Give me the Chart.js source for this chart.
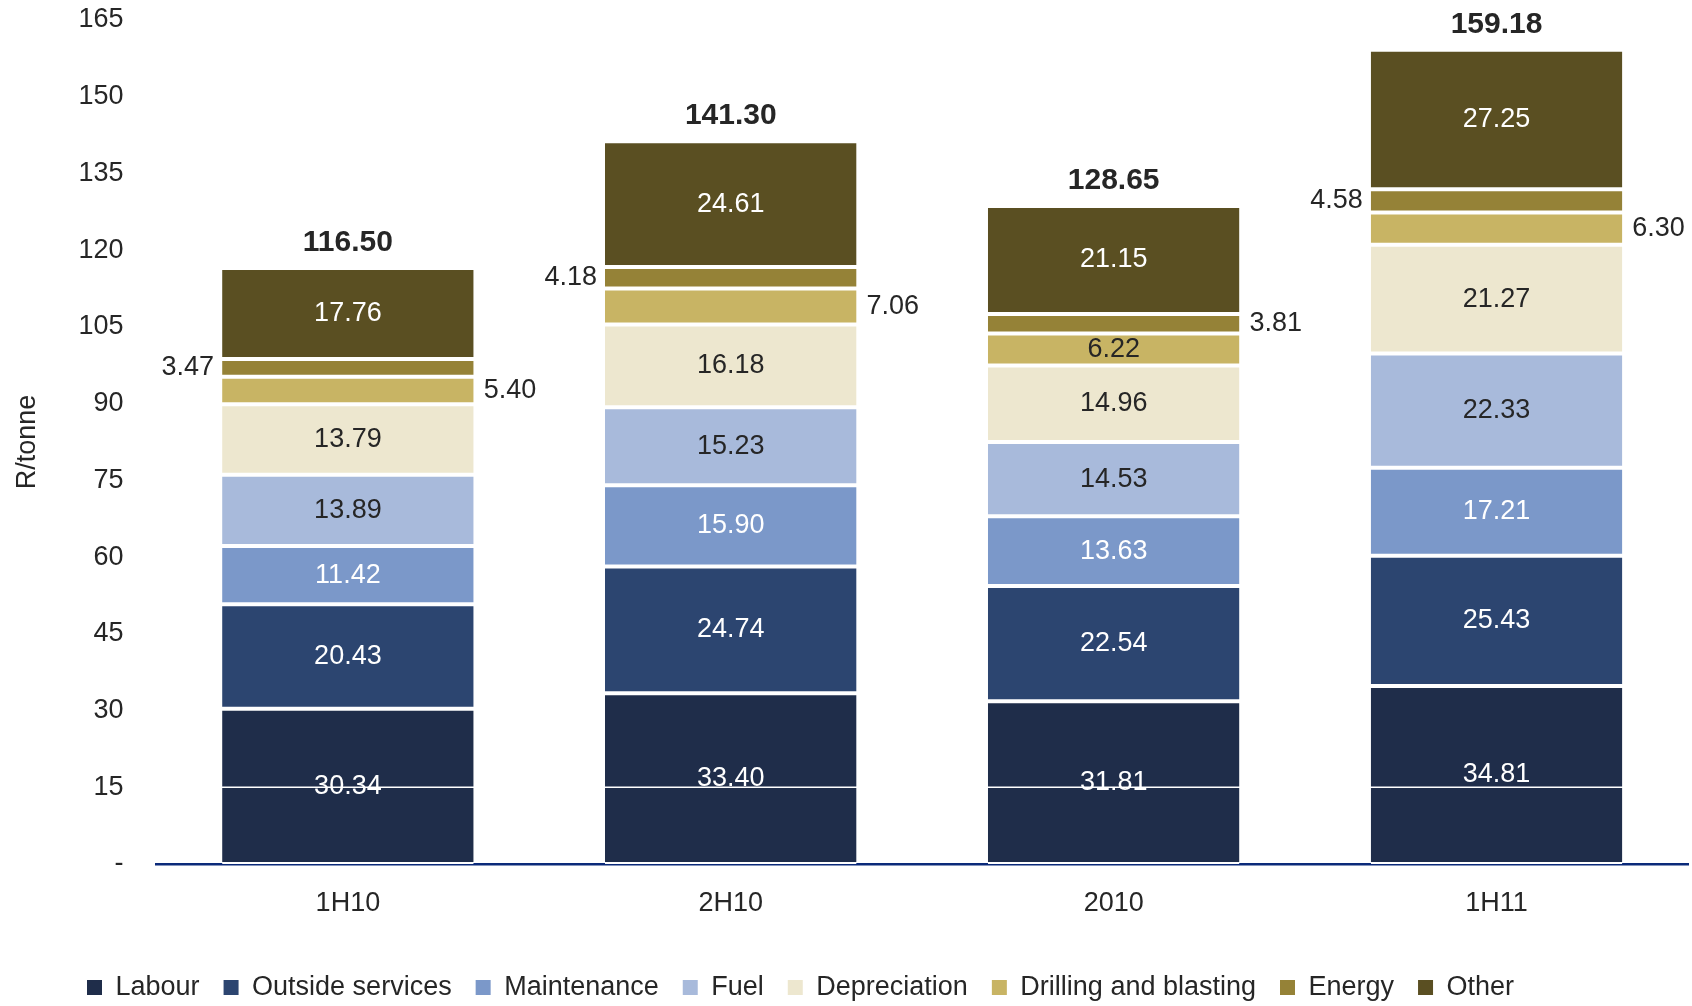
<!DOCTYPE html>
<html>
<head>
<meta charset="utf-8">
<title>Cash cost per tonne</title>
<script src="https://cdn.jsdelivr.net/npm/chart.js@4.4.1/dist/chart.umd.min.js"></script>
<style>
  html, body { margin: 0; padding: 0; background: #fff; }
  #wrap { width: 1692px; height: 1006px; }
</style>
</head>
<body>
<div id="wrap"><canvas id="costChart" width="1692" height="1006"></canvas></div>
<script>
/* ---------- Data (R/tonne) ---------- */
const categories     = ['1H10', '2H10', '2010', '1H11'];
const labour         = [30.34, 33.40, 31.81, 34.81];
const outsideServ    = [20.43, 24.74, 22.54, 25.43];
const maintenance    = [11.42, 15.90, 13.63, 17.21];
const fuel           = [13.89, 15.23, 14.53, 22.33];
const depreciation   = [13.79, 16.18, 14.96, 21.27];
const drilling       = [5.40, 7.06, 6.22, 6.30];
const energy         = [3.47, 4.18, 3.81, 4.58];
const other          = [17.76, 24.61, 21.15, 27.25];
const totals         = [116.50, 141.30, 128.65, 159.18];

const yMax  = 165;
const yStep = 15;

/* ---------- Styling ---------- */
const FONT = '"Liberation Sans", Arial, sans-serif';
const INK  = '#262626';
const SIZE = 27;

const series = [
  { name: 'Labour',                data: labour,       color: '#1F2D4A', text: '#fff' },
  { name: 'Outside services',      data: outsideServ,  color: '#2C4570', text: '#fff' },
  { name: 'Maintenance',           data: maintenance,  color: '#7B98C9', text: '#fff' },
  { name: 'Fuel',                  data: fuel,         color: '#A8BADB', text: INK },
  { name: 'Depreciation',          data: depreciation, color: '#EDE7CF', text: INK },
  { name: 'Drilling and blasting', data: drilling,     color: '#C8B464', text: INK,
    place: ['right', 'right', 'in', 'right'] },
  { name: 'Energy',                data: energy,       color: '#958237', text: INK,
    place: ['left', 'left', 'right', 'left'] },
  { name: 'Other',                 data: other,        color: '#5A4F22', text: '#fff' }
];

Chart.defaults.font.family = FONT;
Chart.defaults.color = INK;

/* value labels inside / beside each segment, plus bold totals */
const segmentLabels = {
  id: 'segmentLabels',
  afterDatasetsDraw(chart) {
    const { ctx, chartArea, scales: { y } } = chart;
    ctx.save();

    // thin white rule across the bars at 15
    const y15 = y.getPixelForValue(15);
    ctx.strokeStyle = '#fff';
    ctx.lineWidth = 1.5;
    ctx.beginPath();
    ctx.moveTo(chartArea.left, y15);
    ctx.lineTo(chartArea.right, y15);
    ctx.stroke();

    ctx.font = `${SIZE}px ${FONT}`;
    ctx.textBaseline = 'middle';
    series.forEach((s, di) => {
      chart.getDatasetMeta(di).data.forEach((bar, i) => {
        const txt  = s.data[i].toFixed(2);
        const midY = (bar.y + bar.base) / 2;
        const half = bar.width / 2;
        const where = s.place ? s.place[i] : 'in';
        if (where === 'left') {
          ctx.fillStyle = INK; ctx.textAlign = 'right';
          ctx.fillText(txt, bar.x - half - 8, midY);
        } else if (where === 'right') {
          ctx.fillStyle = INK; ctx.textAlign = 'left';
          ctx.fillText(txt, bar.x + half + 10, midY);
        } else {
          ctx.fillStyle = s.text; ctx.textAlign = 'center';
          ctx.fillText(txt, bar.x, midY);
        }
      });
    });

    ctx.font = `bold 30px ${FONT}`;
    ctx.fillStyle = INK;
    ctx.textAlign = 'center';
    chart.getDatasetMeta(series.length - 1).data.forEach((bar, i) => {
      ctx.fillText(totals[i].toFixed(2), bar.x, bar.y - 25);
    });
    ctx.restore();
  }
};

/* legend sits a little left of centre and near the bottom edge */
const legendNudge = {
  id: 'legendNudge',
  afterLayout(chart) {
    const lg = chart.legend;
    lg.left = 63;
    lg.top += 5;
    lg.bottom += 5;
  }
};

new Chart(document.getElementById('costChart'), {
  type: 'bar',
  data: {
    labels: categories,
    datasets: series.map(s => ({
      label: s.name,
      data: s.data,
      backgroundColor: s.color,
      borderColor: '#fff',
      borderWidth: { top: 2, bottom: 2, left: 0, right: 0 },
      borderSkipped: false,
      barPercentage: 0.657,
      categoryPercentage: 1.0
    }))
  },
  options: {
    responsive: false,
    animation: false,
    layout: { padding: { top: 20, right: 4, left: 0, bottom: 0 } },
    plugins: {
      tooltip: { enabled: false },
      legend: {
        position: 'bottom',
        align: 'start',
        labels: {
          boxWidth: 15,
          boxHeight: 15,
          padding: 24,
          color: INK,
          font: { size: SIZE },
          generateLabels: chart =>
            Chart.defaults.plugins.legend.labels.generateLabels(chart)
                 .map(l => ({ ...l, lineWidth: 0 }))
        }
      }
    },
    scales: {
      x: {
        stacked: true,
        grid: { display: false, drawTicks: false },
        border: { display: true, color: '#0B2A7A', width: 2.5 },
        ticks: { padding: 23, color: INK, font: { size: SIZE } },
        afterFit: scale => { scale.height = 81; }
      },
      y: {
        stacked: true,
        min: 0,
        max: yMax,
        grid: { display: false, drawTicks: false },
        border: { display: false },
        ticks: {
          stepSize: yStep,
          padding: 33,
          color: INK,
          font: { size: SIZE },
          callback: v => (v === 0 ? '-' : v)
        },
        title: {
          display: true,
          text: 'R/tonne',
          color: INK,
          font: { size: SIZE },
          padding: { top: 11, bottom: 2 }
        },
        // tick padding would otherwise push the plot top down
        afterFit: scale => { scale.paddingTop = 16; }
      }
    }
  },
  plugins: [segmentLabels, legendNudge]
});
</script>
</body>
</html>
